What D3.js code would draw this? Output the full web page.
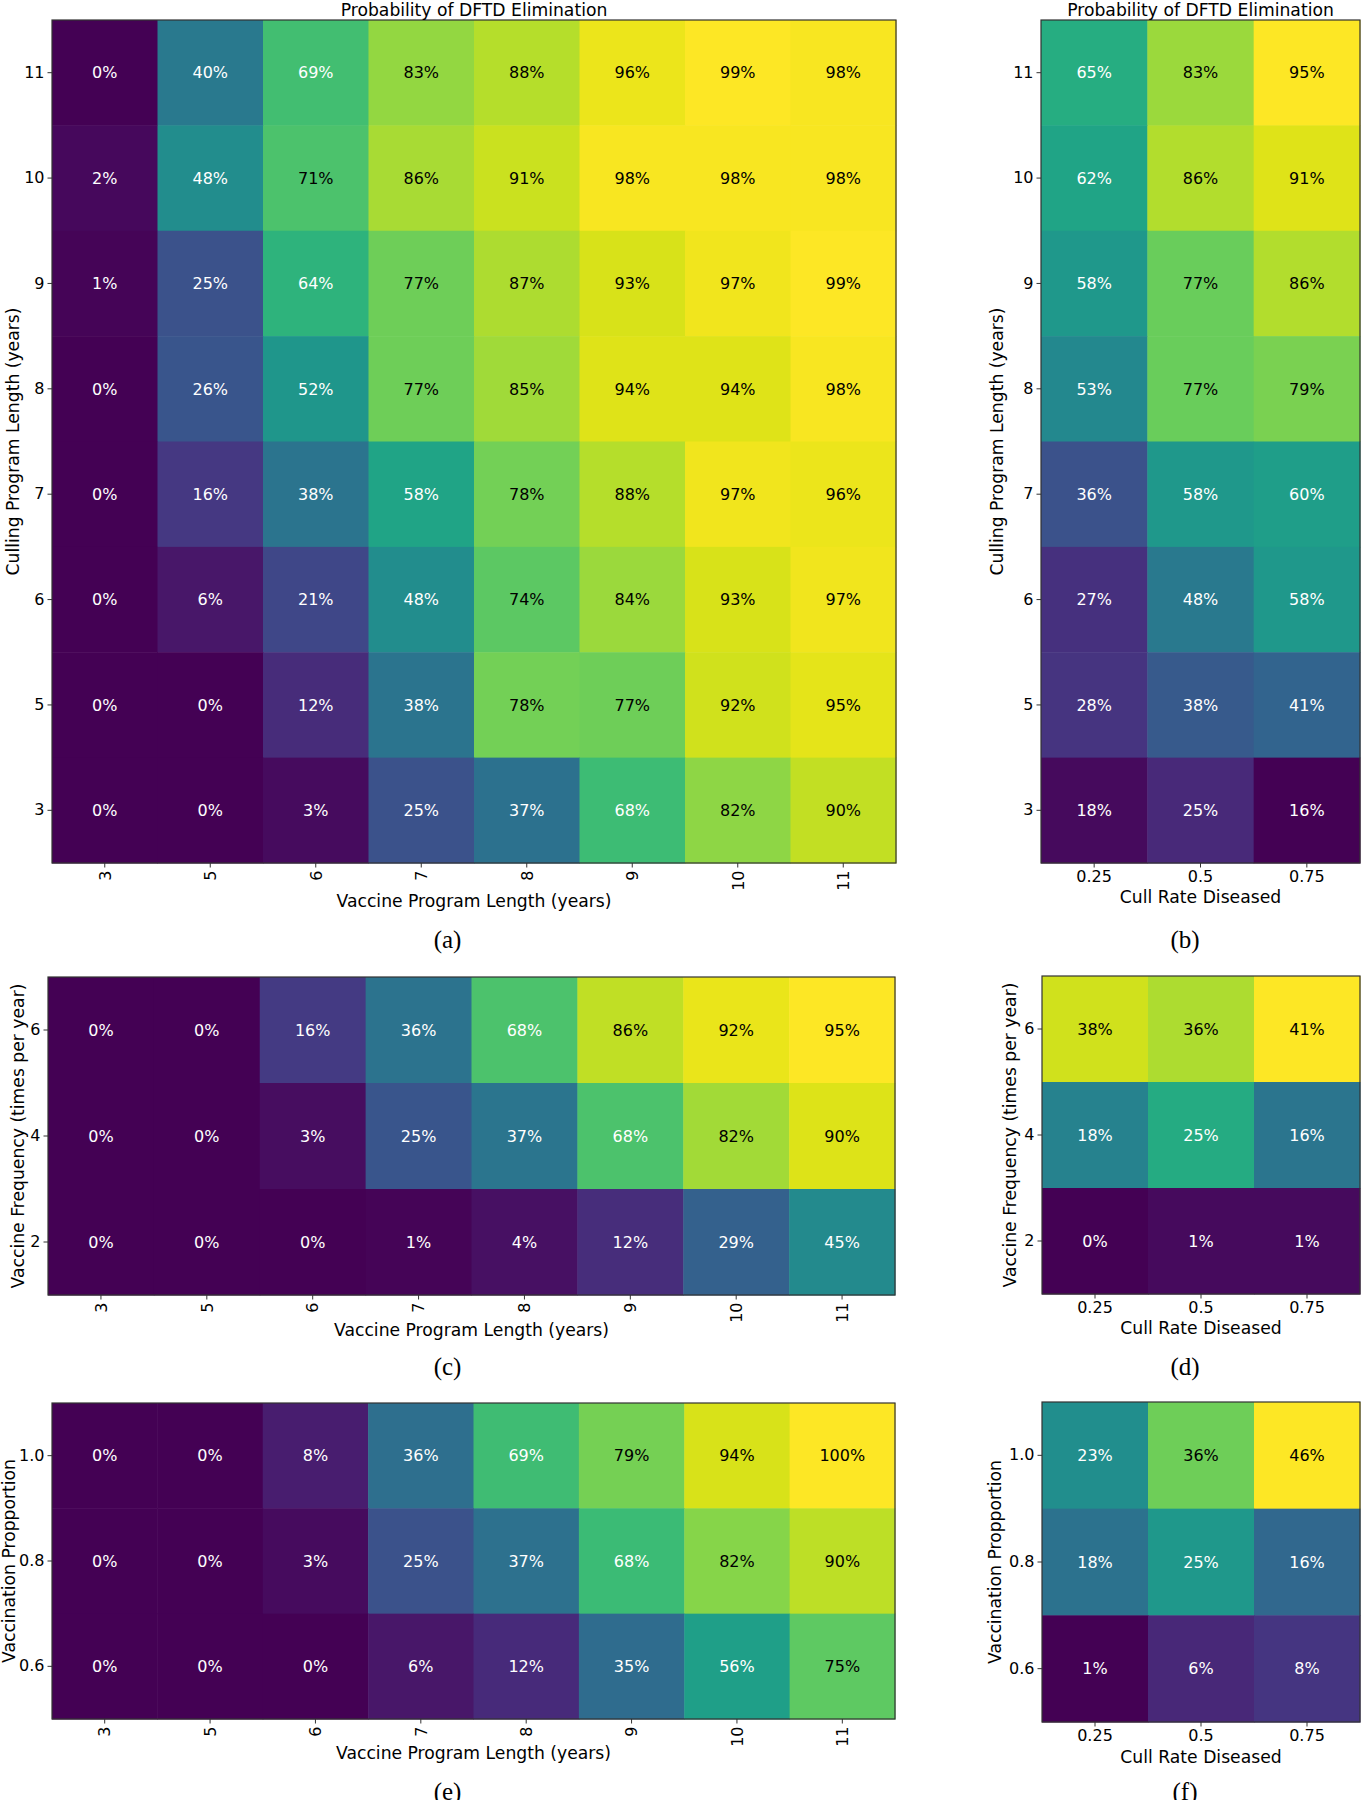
<!DOCTYPE html>
<html>
<head>
<meta charset="utf-8">
<script src="https://cdn.jsdelivr.net/npm/d3@7"></script>
<style>
	body { margin: 0; background: #fff; }
	svg { display: block; }
	.tick text { font-family: "DejaVu Sans", sans-serif; font-size: 16px; fill: #000; }
	.tick line { stroke: #333; stroke-width: 1; }
	.lbl { font-family: "DejaVu Sans", sans-serif; font-size: 17.2px; fill: #000; }
	.ann { font-family: "DejaVu Sans", sans-serif; font-size: 16px; }
	.cap { font-family: "Liberation Serif", "DejaVu Serif", serif; font-size: 25px; fill: #000; }
</style>
</head>
<body>
<svg id="fig" width="1361" height="1800"></svg>
<script>
//----------------------------------- data
const vacLength = ["3", "5", "6", "7", "8", "9", "10", "11"];
const cullLength = ["11", "10", "9", "8", "7", "6", "5", "3"];
const cullRate = ["0.25", "0.5", "0.75"];
const vacFreq = ["6", "4", "2"];
const vacProp = ["1.0", "0.8", "0.6"];

// rows follow the y categories top to bottom, values in percent
const probA = [
	[0, 40, 69, 83, 88, 96, 99, 98],
	[2, 48, 71, 86, 91, 98, 98, 98],
	[1, 25, 64, 77, 87, 93, 97, 99],
	[0, 26, 52, 77, 85, 94, 94, 98],
	[0, 16, 38, 58, 78, 88, 97, 96],
	[0, 6, 21, 48, 74, 84, 93, 97],
	[0, 0, 12, 38, 78, 77, 92, 95],
	[0, 0, 3, 25, 37, 68, 82, 90]
];
const probB = [
	[65, 83, 95],
	[62, 86, 91],
	[58, 77, 86],
	[53, 77, 79],
	[36, 58, 60],
	[27, 48, 58],
	[28, 38, 41],
	[18, 25, 16]
];
const probC = [
	[0, 0, 16, 36, 68, 86, 92, 95],
	[0, 0, 3, 25, 37, 68, 82, 90],
	[0, 0, 0, 1, 4, 12, 29, 45]
];
const probD = [
	[38, 36, 41],
	[18, 25, 16],
	[0, 1, 1]
];
const probE = [
	[0, 0, 8, 36, 69, 79, 94, 100],
	[0, 0, 3, 25, 37, 68, 82, 90],
	[0, 0, 0, 6, 12, 35, 56, 75]
];
const probF = [
	[23, 36, 46],
	[18, 25, 16],
	[1, 6, 8]
];

const titleText = "Probability of DFTD Elimination";
const labVacLength = "Vaccine Program Length (years)";
const labCullLength = "Culling Program Length (years)";
const labCullRate = "Cull Rate Diseased";
const labVacFreq = "Vaccine Frequency (times per year)";
const labVacProp = "Vaccination Propportion";

//----------------------------------- layout
const panels = [
	{ values: probA, xs: vacLength, ys: cullLength, box: [52, 896, 20, 863], rotate: true,
		xLabel: labVacLength, yLabel: labCullLength, xLabelY: 906.5, yLabelX: 19, title: true, cap: "(a)", capX: 447.5, capY: 947.5 },
	{ values: probB, xs: cullRate, ys: cullLength, box: [1041, 1360, 20, 863], rotate: false,
		xLabel: labCullRate, yLabel: labCullLength, xLabelY: 903, yLabelX: 1002.5, title: true, cap: "(b)", capX: 1185, capY: 947.5 },
	{ values: probC, xs: vacLength, ys: vacFreq, box: [48, 895, 977, 1295], rotate: true,
		xLabel: labVacLength, yLabel: labVacFreq, xLabelY: 1336, yLabelX: 24, title: false, cap: "(c)", capX: 447.5, capY: 1375 },
	{ values: probD, xs: cullRate, ys: vacFreq, box: [1042, 1360, 976, 1294], rotate: false,
		xLabel: labCullRate, yLabel: labVacFreq, xLabelY: 1334, yLabelX: 1016, title: false, cap: "(d)", capX: 1185, capY: 1375 },
	{ values: probE, xs: vacLength, ys: vacProp, box: [52, 895, 1403, 1719], rotate: true,
		xLabel: labVacLength, yLabel: labVacProp, xLabelY: 1759, yLabelX: 14.5, title: false, cap: "(e)", capX: 447.5, capY: 1800 },
	{ values: probF, xs: cullRate, ys: vacProp, box: [1042, 1360, 1402, 1722], rotate: false,
		xLabel: labCullRate, yLabel: labVacProp, xLabelY: 1763, yLabelX: 1001, title: false, cap: "(f)", capX: 1185, capY: 1800 }
];

const svg = d3.select("#fig");

//-----------------------------------
function _drawPanel(p) {
	let x0 = p.box[0], x1 = p.box[1], y0 = p.box[2], y1 = p.box[3];
	let cx = (x0 + x1) / 2, cy = (y0 + y1) / 2;

	let x = d3.scaleBand().domain(p.xs).range([x0, x1]);
	let y = d3.scaleBand().domain(p.ys).range([y0, y1]);

	let flat = [];
	p.values.forEach((row, i) => row.forEach((v, j) => flat.push({ v: v, xk: p.xs[j], yk: p.ys[i] })));
	let ext = d3.extent(flat, d => d.v);
	let color = d3.scaleSequential(d3.interpolateViridis).domain(ext);
	let norm = d3.scaleLinear().domain(ext).range([0, 1]);

	let g = svg.append("g");

	g.selectAll("rect.cell").data(flat).join("rect")
		.attr("class", "cell")
		.attr("x", d => x(d.xk))
		.attr("y", d => y(d.yk))
		.attr("width", x.bandwidth() + 0.5)
		.attr("height", y.bandwidth() + 0.5)
		.attr("fill", d => color(d.v));

	g.selectAll("text.ann").data(flat).join("text")
		.attr("class", "ann")
		.attr("x", d => x(d.xk) + x.bandwidth() / 2)
		.attr("y", d => y(d.yk) + y.bandwidth() / 2)
		.attr("dy", "0.36em")
		.attr("text-anchor", "middle")
		.attr("fill", d => norm(d.v) > 0.7165 ? "#000" : "#fff")  // dark text on light cells
		.text(d => d.v + "%");

	// frame
	g.append("rect")
		.attr("x", x0).attr("y", y0)
		.attr("width", x1 - x0).attr("height", y1 - y0)
		.attr("fill", "none").attr("stroke", "#333").attr("stroke-width", 1.2);

	//------- x axis
	let ax = g.append("g").attr("transform", "translate(0," + y1 + ")")
		.call(d3.axisBottom(x).tickSize(4.5).tickPadding(3).tickSizeOuter(0));
	ax.select(".domain").remove();
	if (p.rotate) {
		ax.selectAll(".tick text")
			.attr("y", 0).attr("x", -7.5)
			.attr("dy", "0.36em")
			.attr("transform", "rotate(-90)")
			.attr("text-anchor", "end");
	} else {
		ax.selectAll(".tick text").attr("y", 19).attr("dy", 0);
	}

	//------- y axis
	let ay = g.append("g").attr("transform", "translate(" + x0 + ",0)")
		.call(d3.axisLeft(y).tickSize(4.5).tickPadding(3).tickSizeOuter(0));
	ay.select(".domain").remove();

	ax.attr("font-size", null).attr("font-family", null);
	ay.attr("font-size", null).attr("font-family", null);

	//------- labels
	g.append("text").attr("class", "lbl")
		.attr("x", cx).attr("y", p.xLabelY)
		.attr("text-anchor", "middle")
		.text(p.xLabel);

	g.append("text").attr("class", "lbl")
		.attr("transform", "translate(" + p.yLabelX + "," + cy + ") rotate(-90)")
		.attr("text-anchor", "middle")
		.text(p.yLabel);

	if (p.title) {
		g.append("text").attr("class", "lbl")
			.attr("x", cx).attr("y", 15.5)
			.attr("text-anchor", "middle")
			.text(titleText);
	}

	g.append("text").attr("class", "cap")
		.attr("x", p.capX).attr("y", p.capY)
		.attr("text-anchor", "middle")
		.text(p.cap);
}

panels.forEach(_drawPanel);
</script>
</body>
</html>
